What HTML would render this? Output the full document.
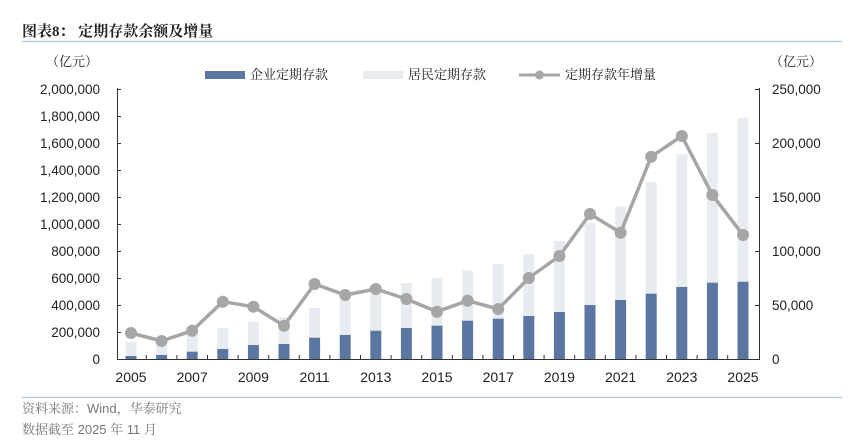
<!DOCTYPE html>
<html><head><meta charset="utf-8">
<style>
html,body{margin:0;padding:0;background:#fff;}
svg{display:block;}
.t{font-family:"Liberation Sans",sans-serif;font-size:13.5px;fill:#222;}
.c{font-family:"Liberation Serif","Noto Serif CJK SC",serif;fill:#222;}
.s{font-family:"Liberation Sans","Noto Serif CJK SC",sans-serif;fill:#777;font-size:13px;}
</style></head><body>
<svg id="s" width="855" height="446" viewBox="0 0 855 446" xmlns="http://www.w3.org/2000/svg">
<text x="22" y="36" class="c" font-size="15" font-weight="bold">图表8：  定期存款余额及增量</text>
<line x1="22" y1="41.5" x2="842" y2="41.5" stroke="#b9c5d3" stroke-width="1.2"/>
<text x="46" y="66" class="c" font-size="13">（亿元）</text>
<text x="770" y="66" class="c" font-size="13">（亿元）</text>
<rect x="205" y="71" width="40" height="8" fill="#5b76a0"/>
<text x="250" y="79" class="c" font-size="13">企业定期存款</text>
<rect x="363" y="71" width="40" height="8" fill="#e8ecf0"/>
<text x="408" y="79" class="c" font-size="13">居民定期存款</text>
<line x1="519" y1="75" x2="560" y2="75" stroke="#a6a6a6" stroke-width="3"/>
<circle cx="539.5" cy="75" r="4.5" fill="#a6a6a6"/>
<text x="565" y="79" class="c" font-size="13">定期存款年增量</text>
<g id="g"></g>
<line x1="117.5" y1="88" x2="117.5" y2="359" stroke="#333"/>
<line x1="759.5" y1="88" x2="759.5" y2="359" stroke="#333"/>
<line x1="117" y1="359.5" x2="760" y2="359.5" stroke="#333"/>
<line x1="22" y1="397.5" x2="842" y2="397.5" stroke="#b9c5d3" stroke-width="1.2"/>
<text x="22" y="413" class="s">资料来源：Wind，华泰研究</text>
<text x="22" y="434" class="s">数据截至 2025 年 11 月</text>
</svg>
<script>
var g=document.getElementById('g'),h='';
var tot=[341.7,345,335,328,321.7,317,308,300,293,283,277.7,270.7,264,254,241,223,206.7,181.7,154,133,117.7];
var ent=[356,355,351.7,349,345,344,337.7,335,330.7,328,325.7,320.7,318.7,316,312,305,300,293.7,287,282.7,281.7];
var ln=[333,341,330.7,301.7,306.7,325.7,284,295,289,299,311.7,300.7,309,278,256,214,232.7,156.7,136,195,235];
var pts=[];
for(var i=0;i<21;i++){var cx=131+30.6*i;
h+='<rect x="'+(cx-5.5)+'" y="'+tot[i]+'" width="11" height="'+(ent[i]-tot[i])+'" fill="#e8ecf0"/>';
h+='<rect x="'+(cx-5.5)+'" y="'+ent[i]+'" width="11" height="'+(359-ent[i])+'" fill="#5b76a0"/>';
pts.push(cx+','+ln[i]);
if(i%2==0)h+='<text class="t" x="'+cx+'" y="382" text-anchor="middle" style="font-size:14px">'+(2005+i)+'</text>';
if(i<20)h+='<line x1="'+(cx+15.3)+'" y1="359" x2="'+(cx+15.3)+'" y2="355" stroke="#333"/>';}
h+='<polyline points="'+pts.join(' ')+'" fill="none" stroke="#a6a6a6" stroke-width="3.5" stroke-linejoin="round"/>';
for(var i=0;i<21;i++){h+='<circle cx="'+(131+30.6*i)+'" cy="'+ln[i]+'" r="6" fill="#a6a6a6"/>';}
var L=['0','200,000','400,000','600,000','800,000','1,000,000','1,200,000','1,400,000','1,600,000','1,800,000','2,000,000'];
for(var k=0;k<=10;k++){var y=359-27*k;h+='<text class="t" x="100" y="'+(y+5)+'" text-anchor="end">'+L[k]+'</text>';
h+='<line x1="117" y1="'+(y+0.5)+'" x2="121" y2="'+(y+0.5)+'" stroke="#333"/>';}
var R=['0','50,000','100,000','150,000','200,000','250,000'];
for(var k=0;k<=5;k++){var y=359-54*k;h+='<text class="t" x="772" y="'+(y+5)+'">'+R[k]+'</text>';
h+='<line x1="755" y1="'+(y+0.5)+'" x2="760" y2="'+(y+0.5)+'" stroke="#333"/>';}
g.innerHTML=h;
</script>
</body></html>
